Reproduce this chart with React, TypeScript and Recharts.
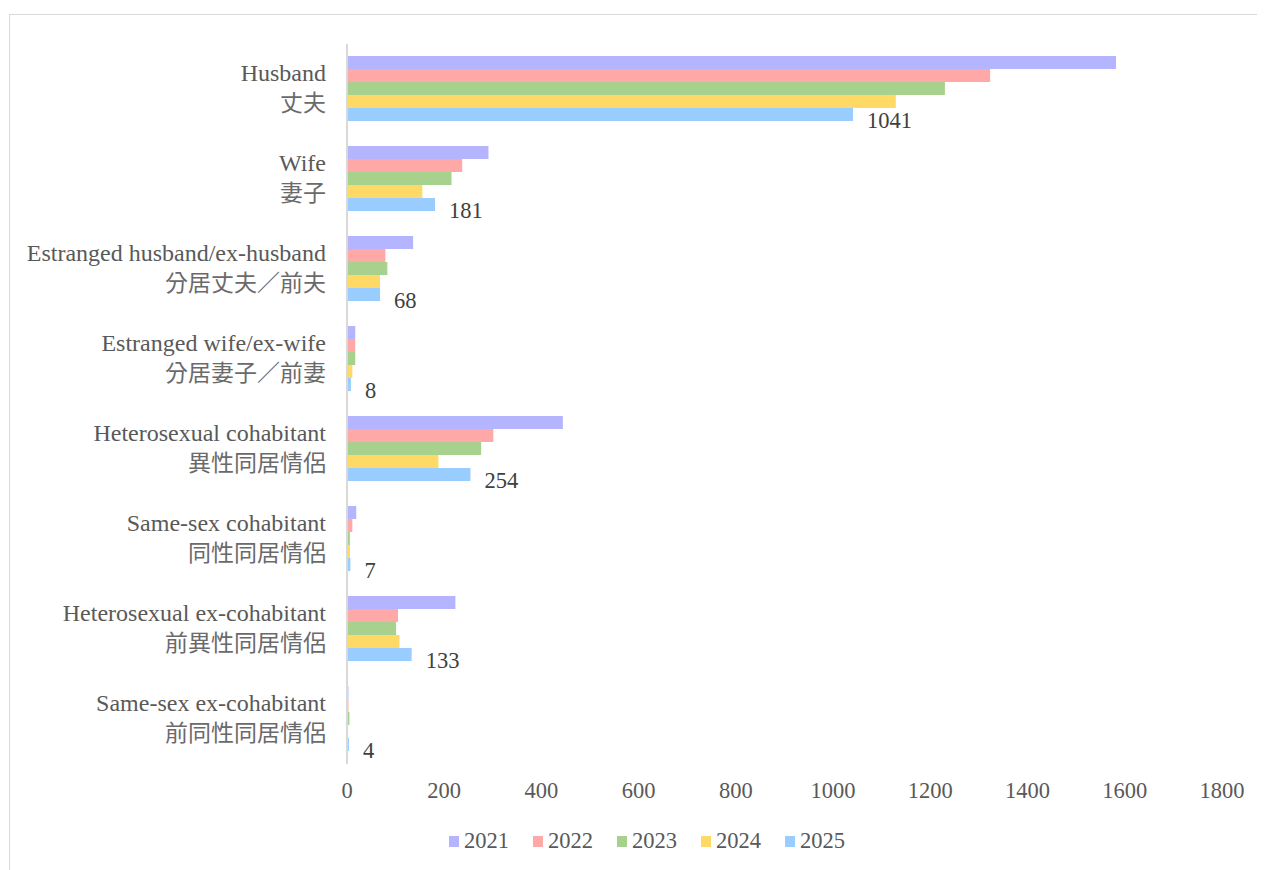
import React from "react"
import { BarChart, Bar, XAxis, YAxis, Legend, LabelList } from "recharts"

// categories (English / Chinese)
const labelsEn = [
  "Husband",
  "Wife",
  "Estranged husband/ex-husband",
  "Estranged wife/ex-wife",
  "Heterosexual cohabitant",
  "Same-sex cohabitant",
  "Heterosexual ex-cohabitant",
  "Same-sex ex-cohabitant",
]
const labelsZh = [
  "丈夫",
  "妻子",
  "分居丈夫／前夫",
  "分居妻子／前妻",
  "異性同居情侶",
  "同性同居情侶",
  "前異性同居情侶",
  "前同性同居情侶",
]

const years = ["2021", "2022", "2023", "2024", "2025"]
const colors = ["#B4B4FF", "#FFA8A8", "#A9D18E", "#FFD966", "#99CCFF"]

const v2021 = [1582, 291, 136, 17, 444, 19, 223, 3]
const v2022 = [1323, 237, 79, 17, 301, 11, 105, 3]
const v2023 = [1230, 215, 83, 17, 276, 6, 101, 5]
const v2024 = [1129, 155, 68, 11, 188, 6, 108, 0]
const v2025 = [1041, 181, 68, 8, 254, 7, 133, 4]

const xTicks = [0, 200, 400, 600, 800, 1000, 1200, 1400, 1600, 1800]

const series = [v2021, v2022, v2023, v2024, v2025]

const data = labelsEn.map((en, i) => {
  const row: Record<string, string | number> = { name: en, zh: labelsZh[i] }
  years.forEach((y, k) => {
    row[y] = series[k][i]
  })
  return row
})

const FONT = "'Times New Roman', 'Liberation Serif', 'Noto Sans CJK TC', serif"

function CategoryTick(props: any) {
  const { x, y, payload } = props
  const zh = labelsZh[payload.index] ?? ""
  return (
    <text x={x} y={y} textAnchor="end" fill="#595959" fontFamily={FONT} fontSize={24}>
      <tspan x={x} dy={-8}>{payload.value}</tspan>
      <tspan x={x} dy={29.5} fontSize={23} fill="#6a6a6a">{zh}</tspan>
    </text>
  )
}

function ValueLabel(props: any) {
  const { x, y, width, height, value } = props
  return (
    <text
      x={x + width + 14}
      y={y + height / 2 + 13.5}
      fill="#404040"
      fontFamily={FONT}
      fontSize={22.5}
      textAnchor="start"
    >
      {value}
    </text>
  )
}

function LegendContent() {
  return (
    <div style={{ display: "flex", justifyContent: "center", alignItems: "center", height: 30 }}>
      {years.map((y, i) => (
        <div key={y} style={{ display: "flex", alignItems: "center", marginRight: i < years.length - 1 ? 24 : 0 }}>
          <span style={{ width: 10, height: 11, background: colors[i], display: "inline-block", marginRight: 5 }} />
          <span style={{ fontFamily: FONT, fontSize: 22.5, color: "#595959" }}>{y}</span>
        </div>
      ))}
    </div>
  )
}

export default function App() {
  return (
    <div style={{ width: 1257, height: 862, overflow: "hidden", position: "relative" }}>
      <div
        style={{
          position: "absolute",
          left: 1,
          top: 6,
          width: 1276,
          height: 860,
          border: "1px solid #d9d9d9",
          background: "#fff",
        }}
      >
        <BarChart
          width={1276}
          height={860}
          data={data}
          layout="vertical"
          margin={{ top: 29, right: 64, left: 0, bottom: 19 }}
          barCategoryGap={12}
          barGap={0}
        >
          <XAxis
            type="number"
            domain={[0, 1800]}
            ticks={xTicks}
            axisLine={false}
            tickLine={false}
            tickMargin={12}
            height={62}
            tick={{ fill: "#595959", fontFamily: FONT, fontSize: 22.5 }}
          />
          <YAxis
            type="category"
            dataKey="name"
            width={337}
            axisLine={{ stroke: "#d9d9d9", strokeWidth: 2 }}
            tickLine={false}
            tickSize={0}
            tickMargin={21}
            interval={0}
            tick={<CategoryTick />}
          />
          <Legend
            verticalAlign="bottom"
            content={<LegendContent />}
            wrapperStyle={{ left: 0, width: 1274, height: 30 }}
          />
          {years.map((y, i) => (
            <Bar key={y} dataKey={y} fill={colors[i]} isAnimationActive={false}>
              {i === years.length - 1 && <LabelList dataKey={y} content={<ValueLabel />} />}
            </Bar>
          ))}
        </BarChart>
      </div>
    </div>
  )
}
